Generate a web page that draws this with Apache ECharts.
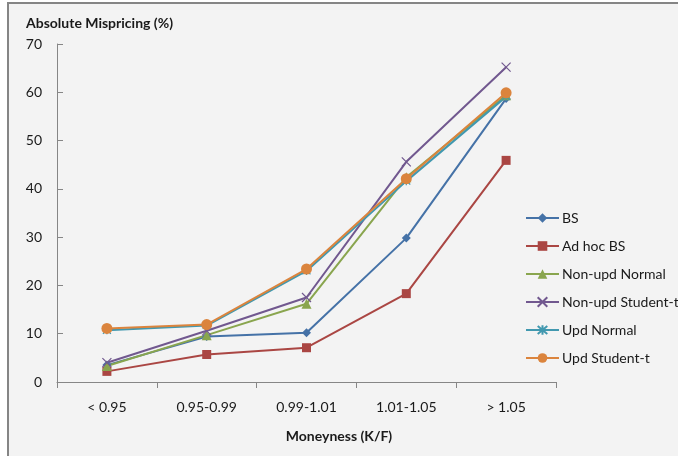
<!DOCTYPE html>
<html>
<head>
<meta charset="utf-8">
<script src="https://cdn.jsdelivr.net/npm/echarts@6/dist/echarts.min.js"></script>
<style>
  html, body { margin: 0; padding: 0; background: #ffffff; }
  #chart { width: 678px; height: 456px; }
</style>
</head>
<body>
<div id="chart"></div>
<script>
// Moneyness buckets (K/F)
const categories = ['< 0.95', '0.95-0.99', '0.99-1.01', '1.01-1.05', '> 1.05'];

// Absolute mispricing (%) per model
const bs            = [3.5, 9.4, 10.2, 29.8, 58.7];
const adHocBs       = [2.2, 5.7, 7.1, 18.3, 45.9];
const nonUpdNormal  = [3.3, 9.7, 16.2, 42.4, 59.4];
const nonUpdStudent = [4.0, 10.6, 17.5, 45.6, 65.2];
const updNormal     = [10.7, 11.7, 23.0, 41.6, 59.1];
const updStudent    = [11.1, 11.9, 23.4, 42.1, 59.9];

const yTicks = [0, 10, 20, 30, 40, 50, 60, 70];

const FONT = 'Lato, "Open Sans", sans-serif';

const crossPath = 'path://M0,0L10,10M10,0L0,10';
const starPath  = 'path://M0,0L10,10M10,0L0,10M5,-1L5,11';

function makeSeries(name, data, color, symbol, size, hollow) {
  return {
    name: name,
    type: 'line',
    data: data,
    symbol: symbol,
    symbolSize: size,
    showAllSymbol: true,
    color: color,
    lineStyle: { color: color, width: 2 },
    itemStyle: hollow
      ? { color: 'rgba(0,0,0,0)', borderColor: color, borderWidth: 1.2 }
      : { color: color },
    emphasis: { disabled: true },
    animation: false
  };
}

const chart = echarts.init(document.getElementById('chart'), null, { renderer: 'canvas' });

chart.setOption({
  backgroundColor: '#ffffff',
  animation: false,
  graphic: [{
    type: 'rect',
    z: -10,
    shape: { x: 8, y: 3, width: 720, height: 500 },
    style: { fill: '#f3f3f3', stroke: '#858585', lineWidth: 2 }
  }],
  title: [{
    text: 'Absolute Mispricing (%)',
    left: 21, top: 11,
    textStyle: { fontFamily: FONT, fontSize: 14, fontWeight: 'bold', color: '#1a1a1a' }
  }, {
    text: 'Moneyness (K/F)',
    left: 334, top: 424,
    textAlign: 'center',
    textStyle: { fontFamily: FONT, fontSize: 14, fontWeight: 'bold', color: '#1a1a1a' }
  }],
  grid: { left: 57, right: 122, top: 44, bottom: 74 },
  legend: {
    orient: 'vertical',
    left: 520, top: 206,
    itemWidth: 33, itemHeight: 12,
    itemGap: 14,
    textStyle: { fontFamily: FONT, fontSize: 14, color: '#1a1a1a', padding: [0, 0, 0, -2] },
    selectedMode: false
  },
  xAxis: {
    type: 'category',
    data: categories,
    boundaryGap: true,
    axisLine: { lineStyle: { color: '#868686', width: 1 } },
    axisTick: { show: true, length: 6, inside: false, lineStyle: { color: '#868686' } },
    axisLabel: { fontFamily: FONT, fontSize: 14, color: '#1a1a1a', margin: 18 },
    splitLine: { show: false }
  },
  yAxis: {
    type: 'value',
    min: yTicks[0],
    max: yTicks[yTicks.length - 1],
    interval: 10,
    axisLine: { show: true, lineStyle: { color: '#868686', width: 1 } },
    axisTick: { show: true, length: 6, inside: true, lineStyle: { color: '#868686' } },
    axisLabel: { fontFamily: FONT, fontSize: 14, color: '#1a1a1a', margin: 15 },
    splitLine: { show: false }
  },
  series: [
    makeSeries('BS', bs, '#4572A7', 'diamond', 9, false),
    makeSeries('Ad hoc BS', adHocBs, '#AA4643', 'rect', 9, false),
    makeSeries('Non-upd Normal', nonUpdNormal, '#89A54E', 'triangle', 10, false),
    makeSeries('Non-upd Student-t', nonUpdStudent, '#71588F', crossPath, 9, true),
    makeSeries('Upd Normal', updNormal, '#4198AF', starPath, 8, true),
    makeSeries('Upd Student-t', updStudent, '#DB843D', 'circle', 11, false)
  ]
});
</script>
</body>
</html>
